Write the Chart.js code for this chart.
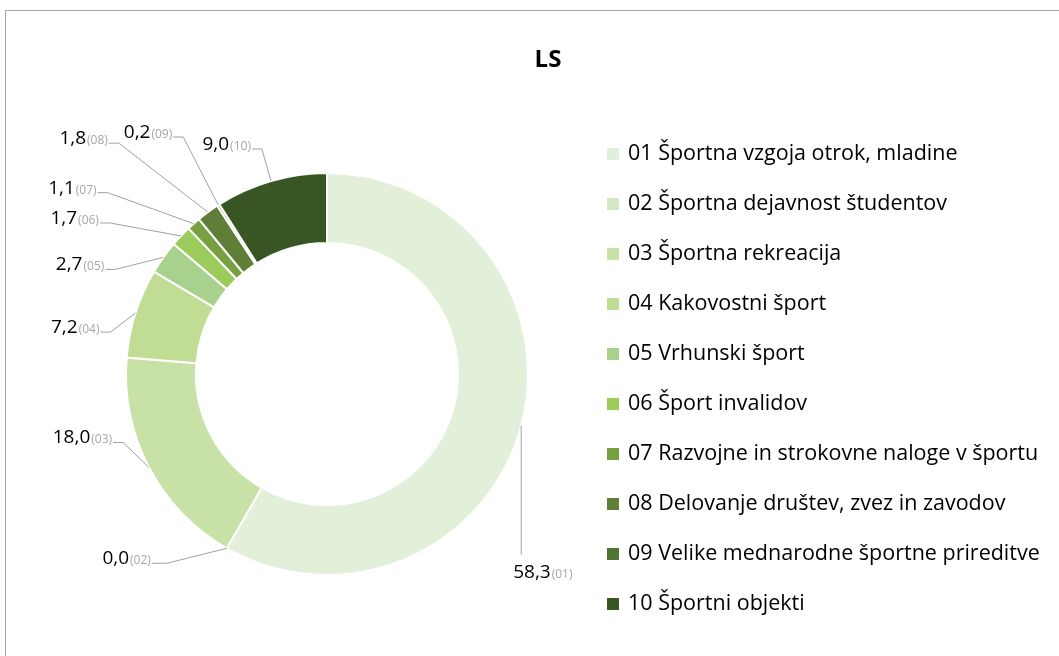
<!DOCTYPE html>
<html>
<head>
<meta charset="utf-8">
<script src="https://cdn.jsdelivr.net/npm/chart.js@4/dist/chart.umd.min.js"></script>
<style>
  html, body { margin: 0; padding: 0; background: #fff; overflow: hidden; }
  #wrap { position: relative; width: 1059px; height: 656px; overflow: hidden; }
  #frame { position: absolute; left: 5px; top: 10px; width: 1100px; height: 700px; border: 1px solid #a6a6a6; box-sizing: border-box; }
  #ls-chart { position: absolute; left: 0; top: 0; }
</style>
</head>
<body>
<div id="wrap">
  <div id="frame"></div>
  <canvas id="ls-chart" width="1059" height="656"></canvas>
</div>
<script>
// podatki
const chartTitle = 'LS';
const categories = [
  '01 Športna vzgoja otrok, mladine',
  '02 Športna dejavnost študentov',
  '03 Športna rekreacija',
  '04 Kakovostni šport',
  '05 Vrhunski šport',
  '06 Šport invalidov',
  '07 Razvojne in strokovne naloge v športu',
  '08 Delovanje društev, zvez in zavodov',
  '09 Velike mednarodne športne prireditve',
  '10 Športni objekti'
];
const shares = [58.3, 0.0, 18.0, 7.2, 2.7, 1.7, 1.1, 1.8, 0.2, 9.0];
const colors = ['#E2EFD9', '#D5E8C5', '#C8E1A7', '#C1DC93', '#A9D18E',
                '#9BCB5A', '#77A040', '#5F7F38', '#4F7530', '#375623'];

// postavitev oznak (odmik od zunanjega roba loka)
const labelLayout = [
  { dx: 0, dy: 129, side: 'below' },
  { dx: -60, dy: 15, side: 'left', tail: 15 },
  { dx: -26, dy: -25, side: 'left' },
  { dx: -25, dy: 19, side: 'left' },
  { dx: -48, dy: 12, side: 'left' },
  { dx: -71, dy: -13, side: 'left' },
  { dx: -86, dy: -31, side: 'left' },
  { dx: -89, dy: -69, side: 'left' },
  { dx: -35, dy: -68, side: 'left' },
  { dx: -9, dy: -32, side: 'left' }
];

const FONT = "'Open Sans', 'Noto Sans', sans-serif";

const calloutPlugin = {
  id: 'callouts',
  afterDatasetsDraw(chart) {
    const ctx = chart.ctx;
    const meta = chart.getDatasetMeta(0);
    ctx.save();
    meta.data.forEach((arc, i) => {
      const p = arc.getProps(['x', 'y', 'startAngle', 'endAngle', 'outerRadius'], true);
      const mid = (p.startAngle + p.endAngle) / 2;
      const ax = p.x + Math.cos(mid) * p.outerRadius;
      const ay = p.y + Math.sin(mid) * p.outerRadius;
      const lay = labelLayout[i];
      const ex = ax + lay.dx, ey = ay + lay.dy;

      ctx.strokeStyle = '#a0a0a0';
      ctx.lineWidth = 1;
      ctx.beginPath();
      ctx.moveTo(ax, ay);
      ctx.lineTo(ex, ey);
      let tx, ty;
      if (lay.side === 'left') {
        const tail = lay.tail || 10;
        ctx.lineTo(ex - tail, ey);
        tx = ex - tail - 1;
        ty = ey - 6;
      } else {
        tx = ex - 8;
        ty = ey + 16;
      }
      ctx.stroke();

      const val = shares[i].toFixed(1).replace('.', ',');
      const code = '(' + categories[i].slice(0, 2) + ')';
      ctx.textBaseline = 'alphabetic';
      ctx.font = '19px ' + FONT;
      const vw = ctx.measureText(val).width;
      ctx.font = '12px ' + FONT;
      const cw = ctx.measureText(code).width;
      const left = lay.side === 'left' ? tx - vw - cw - 1 : tx;
      const base = ty + 7;
      ctx.textAlign = 'left';
      ctx.fillStyle = '#000';
      ctx.font = '19px ' + FONT;
      ctx.fillText(val, left, base);
      ctx.fillStyle = '#a6a6a6';
      ctx.font = '12px ' + FONT;
      ctx.fillText(code, left + vw + 1, base);
    });
    ctx.restore();
  },
  afterDraw(chart) {
    const ctx = chart.ctx;
    ctx.save();
    // naslov
    ctx.fillStyle = '#000';
    ctx.font = 'bold 24px ' + FONT;
    ctx.textAlign = 'center';
    ctx.textBaseline = 'middle';
    ctx.fillText(chartTitle, 548, 60);
    // legenda
    ctx.textAlign = 'left';
    ctx.font = '21.5px ' + FONT;
    categories.forEach((c, i) => {
      const cy = 154 + i * 50;
      ctx.fillStyle = colors[i];
      ctx.fillRect(607, cy - 6, 12, 12);
      ctx.fillStyle = '#000';
      ctx.fillText(c, 628, cy);
    });
    ctx.restore();
  }
};

const ctx = document.getElementById('ls-chart').getContext('2d');
new Chart(ctx, {
  type: 'doughnut',
  data: {
    labels: categories,
    datasets: [{
      data: shares,
      backgroundColor: colors,
      borderColor: '#ffffff',
      borderWidth: 2
    }]
  },
  options: {
    responsive: false,
    animation: false,
    events: [],
    radius: 201,
    cutout: '65.2%',
    layout: { padding: { left: 27, right: 432, top: 100, bottom: 8 } },
    plugins: {
      legend: { display: false },
      title: { display: false },
      tooltip: { enabled: false }
    }
  },
  plugins: [calloutPlugin]
});
</script>
</body>
</html>
